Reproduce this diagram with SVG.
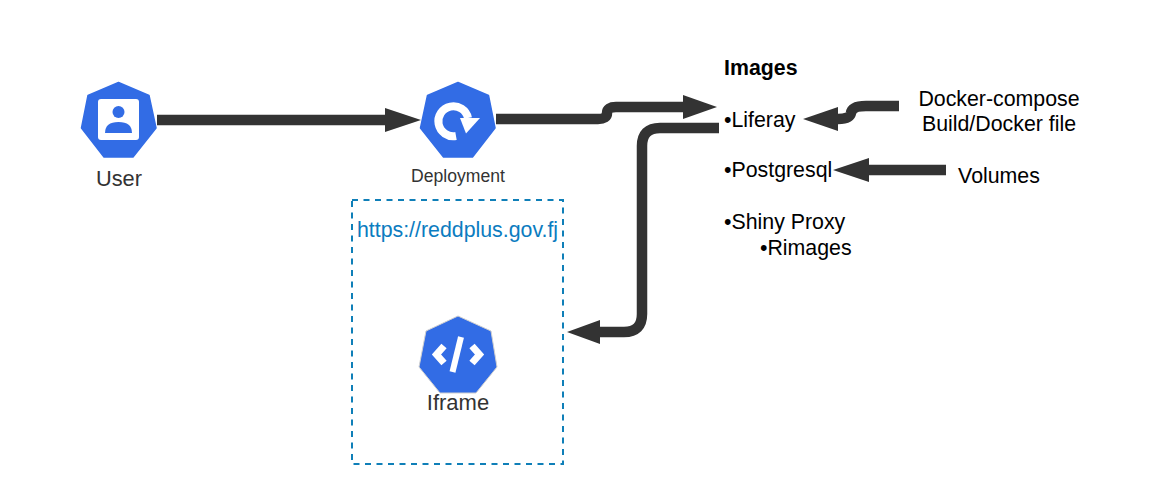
<svg xmlns="http://www.w3.org/2000/svg" width="1150" height="496" viewBox="0 0 1150 496">
<style>
text{font-family:"Liberation Sans",Arial,sans-serif;font-size:21.33px;fill:#000}
.lbl{fill:#333;text-anchor:middle}
.mid{text-anchor:middle}
.hept{fill:#326ce5;stroke:#326ce5;stroke-width:1.5;stroke-linejoin:round}
.line{fill:none;stroke:#333;stroke-width:10.5}
.head{fill:#333}
</style>
<rect width="1150" height="496" fill="#fff"/>
<g id="connectors">
<path class="line" d="M157 120H386"/><polygon class="head" points="421,120 385,108 385,132"/>
<path class="line" d="M496 119H598Q607 119 607 113Q607 107 616 107H684"/><polygon class="head" points="717,107 683,95 683,119"/>
<path class="line" d="M719 128H660Q642 128 642 146V314Q642 332 624 332H600"/><polygon class="head" points="567,332 600,320 600,344"/>
<path class="line" d="M899 106H866Q852 106 851 113Q850 119 838 119"/><polygon class="head" points="803,119 838,107 838,131"/>
<path class="line" d="M946 170H869"/><polygon class="head" points="833,170 869,158 869,182"/>
</g>
<g id="user">
<polygon class="hept" points="118.500,82.500 149,95.500 156,128 133,157 104,157 81.500,128 88,95.500"/>
<rect x="98" y="99" width="41" height="41" rx="3" fill="#fff"/>
<circle cx="118.500" cy="112" r="6" fill="#326ce5"/>
<path d="M105 133Q105 122 118.500 122Q132 122 132 133Z" fill="#326ce5"/>
<text class="lbl" x="119" y="186" style="font-size:21.800px">User</text>
</g>
<g id="deployment">
<polygon class="hept" points="458,82.500 488.500,95.500 495,128 472.500,157 443.500,157 420.500,128 427.500,95.500"/>
<path d="M456 136A15 15 0 1 1 468 118" fill="none" stroke="#fff" stroke-width="8"/>
<polygon points="460,118 480,118 466,133.500" fill="#fff"/>
<text class="lbl" x="458" y="182" style="font-size:17.600px">Deployment</text>
</g>
<g id="iframe">
<rect id="iframe-box" x="352" y="200" width="211" height="264" fill="none" stroke="#0f7fb8" stroke-width="2" stroke-dasharray="6 5.500"/>
<text x="457.500" y="237" class="mid" style="fill:#0b7cc0">https://reddplus.gov.fj</text>
<polygon points="458,316 491,331 497,367 476,393 440,393 419,367 426,331" fill="#326ce5" stroke="#d0d0d0" stroke-width="1"/>
<path d="M444 346L436.500 354.500L444 363M472 346L479.500 354.500L472 363" fill="none" stroke="#fff" stroke-width="7"/>
<path d="M461 337L452.500 372" fill="none" stroke="#fff" stroke-width="6"/>
<text class="lbl" x="458" y="410" style="font-size:22px">Iframe</text>
</g>
<g id="images">
<text x="724" y="75" style="font-weight:bold">Images</text>
<text x="724" y="127">•Liferay</text>
<text x="724" y="177">•Postgresql</text>
<text x="724" y="229">•Shiny Proxy</text>
<text x="760" y="255">•Rimages</text>
</g>
<g id="docker">
<text class="mid" x="999" y="106">Docker-compose</text>
<text class="mid" x="999" y="131">Build/Docker file</text>
</g>
<g id="volumes">
<text class="mid" x="999" y="183">Volumes</text>
</g>
</svg>
